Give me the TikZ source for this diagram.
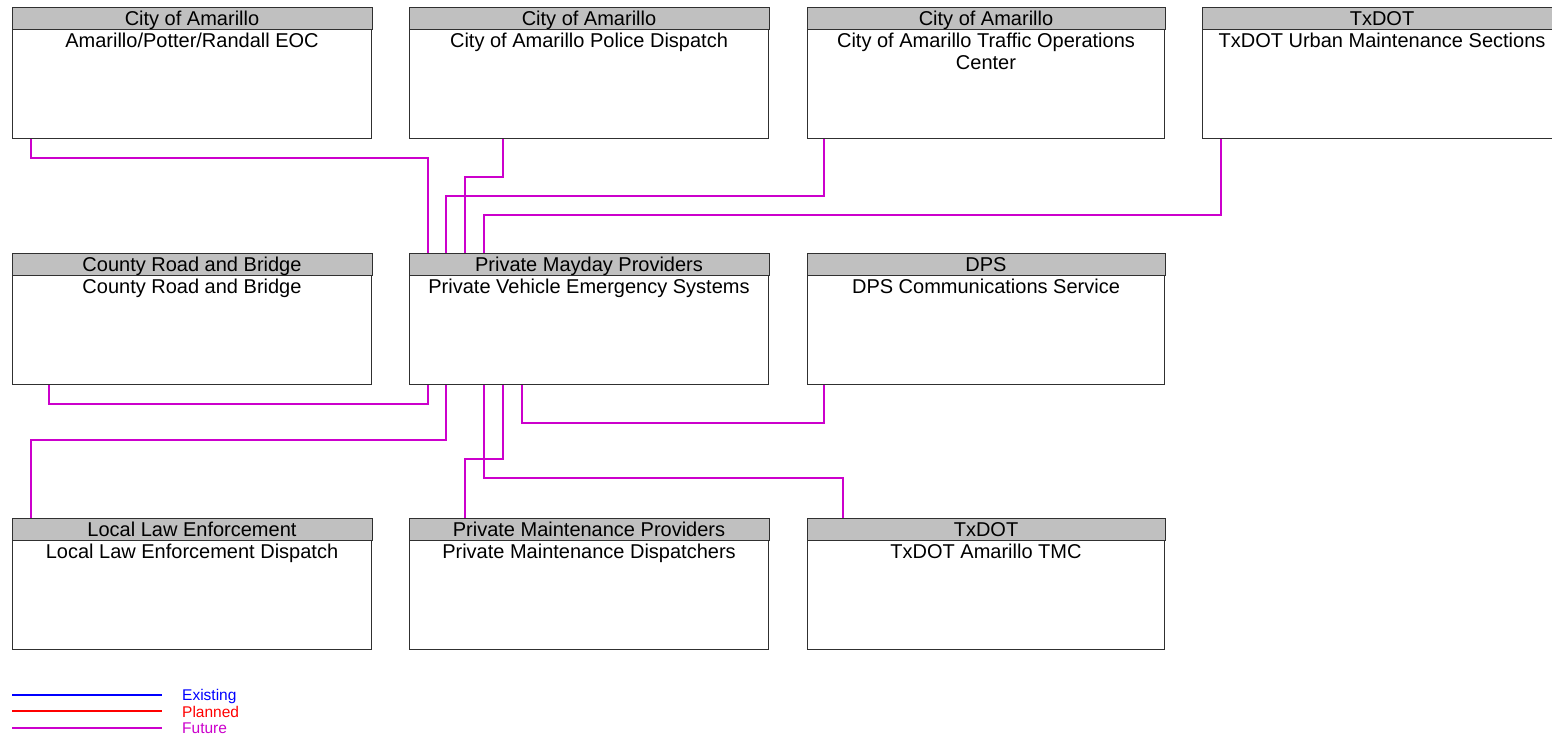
\documentclass[tikz,border=0pt]{standalone}
\usepackage{fontspec}
\setmainfont{Liberation Sans}
\definecolor{hdr}{RGB}{192,192,192}
\definecolor{bord}{RGB}{48,48,48}
\definecolor{fut}{RGB}{204,0,204}
\definecolor{exi}{RGB}{0,0,255}
\definecolor{pla}{RGB}{255,0,0}
\tikzset{
  sysbox/.style={draw=bord, line width=1pt, fill=white, minimum width=#1, minimum height=131pt, inner sep=0pt, anchor=north west},
  hdrbox/.style={draw=bord, line width=1pt, fill=hdr},
  hdrtext/.style={anchor=base, inner sep=0pt, font=\fontsize{20}{22}\selectfont},
  bodytext/.style={anchor=north, inner sep=0pt, align=center, font=\fontsize{20}{22}\selectfont},
  conn/.style={draw=fut, line width=1.1pt},
  legline/.style={line width=1.2pt},
  legtext/.style={anchor=base west, inner sep=0pt, font=\fontsize{15.5}{16}\selectfont}
}
\newcommand\mkbox[6]{%
  \node[sysbox=#4] (#1) at (#2,#3) {};
  \draw[hdrbox] (#1.north west) rectangle ([yshift=-22pt]#1.north east);
  \node[hdrtext] (#1h) at ([yshift=-18.5pt]#1.north) {#5};
  \node[bodytext] (#1b) at ([yshift=-26pt]#1.north) {#6};
}
\begin{document}
\begin{tikzpicture}[x=1pt,y=-1pt]
\useasboundingbox (0,0) rectangle (1552,736);
\mkbox{eoc}{12}{7}{359pt}{City of Amarillo}{Amarillo/Potter/Randall EOC}
\mkbox{police}{409}{7}{359pt}{City of Amarillo}{City of Amarillo Police Dispatch}
\mkbox{traffic}{807}{7}{357pt}{City of Amarillo}{City of Amarillo Traffic Operations\\Center}
\mkbox{urban}{1202}{7}{359pt}{TxDOT}{TxDOT Urban Maintenance Sections}
\mkbox{county}{12}{253}{359pt}{County Road and Bridge}{County Road and Bridge}
\mkbox{pv}{409}{253}{359pt}{Private Mayday Providers}{Private Vehicle Emergency Systems}
\mkbox{dps}{807}{253}{357pt}{DPS}{DPS Communications Service}
\mkbox{local}{12}{518}{359pt}{Local Law Enforcement}{Local Law Enforcement Dispatch}
\mkbox{pmaint}{409}{518}{359pt}{Private Maintenance Providers}{Private Maintenance Dispatchers}
\mkbox{tmc}{807}{518}{357pt}{TxDOT}{TxDOT Amarillo TMC}

\draw[conn] ([xshift=19pt]eoc.south west) -- ++(0,19) -| ([xshift=19pt]pv.north west);
\draw[conn] ([xshift=94pt]police.south west) -- ++(0,38) -| ([xshift=56pt]pv.north west);
\draw[conn] ([xshift=17pt]traffic.south west) -- ++(0,57) -| ([xshift=37pt]pv.north west);
\draw[conn] ([xshift=19pt]urban.south west) -- ++(0,76) -| ([xshift=75pt]pv.north west);
\draw[conn] ([xshift=37pt]county.south west) -- ++(0,19) -| ([xshift=19pt]pv.south west);
\draw[conn] ([xshift=19pt]local.north west) -- ++(0,-78) -| ([xshift=37pt]pv.south west);
\draw[conn] ([xshift=56pt]pmaint.north west) -- ++(0,-59) -| ([xshift=94pt]pv.south west);
\draw[conn] ([xshift=36pt]tmc.north west) -- ++(0,-40) -| ([xshift=75pt]pv.south west);
\draw[conn] ([xshift=17pt]dps.south west) -- ++(0,38) -| ([xshift=113pt]pv.south west);

\draw[legline, draw=exi] (12,695) -- (162,695);
\draw[legline, draw=pla] (12,711) -- (162,711);
\draw[legline, draw=fut] (12,728) -- (162,728);
\node[legtext, text=exi] (lexi) at (182,700.5) {Existing};
\node[legtext, text=pla] (lpla) at (182,717) {Planned};
\node[legtext, text=fut] (lfut) at (182,733.5) {Future};
\end{tikzpicture}
\end{document}
